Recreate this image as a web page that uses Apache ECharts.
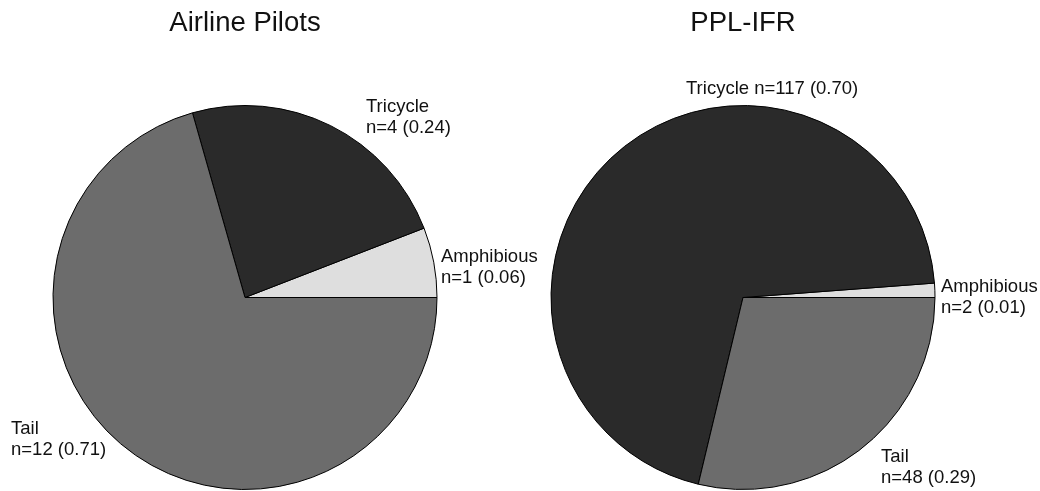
<!DOCTYPE html>
<html>
<head>
<meta charset="utf-8">
<script src="https://cdn.jsdelivr.net/npm/echarts@6/dist/echarts.min.js"></script>
<style>
html,body{margin:0;padding:0;background:#fff;}
#chart{width:1040px;height:491px;}
</style>
</head>
<body>
<div id="chart"></div>
<script>
// ---- data ----
const categories = ['Amphibious', 'Tricycle', 'Tail'];
const panelTitles = ['Airline Pilots', 'PPL-IFR'];
const airlineCounts = [1, 4, 12];
const airlineShares = ['0.06', '0.24', '0.71'];
const pplCounts = [2, 117, 48];
const pplShares = ['0.01', '0.70', '0.29'];

// ---- styling / layout (not data) ----
const sliceColors = ['#dedede', '#2a2a2a', '#6c6c6c'];
const font = 'Liberation Sans, Arial, sans-serif';
const centers = [[245, 297.5], [743, 297.5]];
const radius = 192;
// label anchor (top-left of text box) per panel, per category
const labelAnchors = [
  [[441, 246], [366, 96], [11, 418]],
  [[941, 276], [686, 78], [881, 446]]
];
// separator between name and count per panel, per category
const labelSeps = [
  ['\n', '\n', '\n'],
  ['\n', ' ', '\n']
];

function buildData(counts, shares) {
  return categories.map((c, i) => ({
    name: c,
    value: counts[i],
    share: shares[i],
    itemStyle: { color: sliceColors[i] }
  }));
}

function pieSeries(p, counts, shares) {
  return {
    type: 'pie',
    center: centers[p],
    radius: radius,
    startAngle: 0,
    clockwise: false,
    avoidLabelOverlap: false,
    silent: true,
    animation: false,
    itemStyle: { borderColor: '#000', borderWidth: 1 },
    emphasis: { disabled: true },
    label: {
      show: true,
      position: 'outside',
      color: '#111',
      fontFamily: font,
      fontSize: 18.5,
      lineHeight: 21,
      formatter: function (prm) {
        return prm.name + labelSeps[p][prm.dataIndex] + 'n=' + prm.value + ' (' + prm.data.share + ')';
      }
    },
    labelLine: { show: false },
    labelLayout: function (prm) {
      const a = labelAnchors[p][prm.dataIndex];
      return { x: a[0], y: a[1], align: 'left', verticalAlign: 'top' };
    },
    data: buildData(counts, shares)
  };
}

const chart = echarts.init(document.getElementById('chart'), null, { renderer: 'canvas' });
chart.setOption({
  backgroundColor: '#fff',
  animation: false,
  title: panelTitles.map((t, p) => ({
    text: t,
    left: centers[p][0],
    top: 9,
    padding: 0,
    textAlign: 'center',
    textStyle: { fontFamily: font, fontSize: 27.5, fontWeight: 'normal', color: '#111' }
  })),
  series: [
    pieSeries(0, airlineCounts, airlineShares),
    pieSeries(1, pplCounts, pplShares)
  ]
});
</script>
</body>
</html>
